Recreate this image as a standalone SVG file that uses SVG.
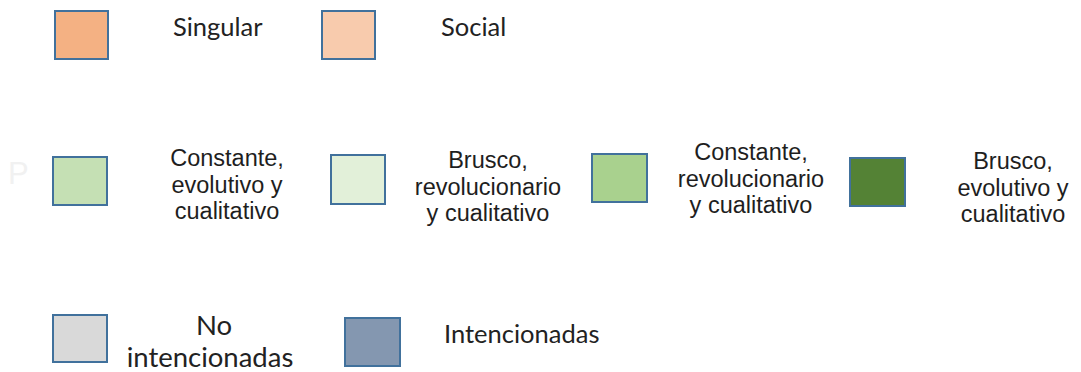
<svg xmlns="http://www.w3.org/2000/svg" width="1081" height="372" viewBox="0 0 1081 372">
<style>
.box{stroke:#41719C;stroke-width:2}
.c{font-family:Lato,"Liberation Sans",sans-serif;font-size:25.5px;fill:#222}
.a{font-family:"Liberation Sans",Arial,sans-serif;font-size:23.5px;fill:#1e1e1e;text-anchor:middle}
.n{font-family:Lato,"Liberation Sans",sans-serif;font-size:27.5px;fill:#222;text-anchor:middle}
</style>
<rect width="1081" height="372" fill="#ffffff"/>
<text x="8" y="184" font-family="Liberation Sans,sans-serif" font-size="31" fill="#f1f1f1">P</text>
<g id="singular">
<rect class="box" x="55" y="11" width="53" height="48" fill="#F4B183"/>
<text class="c" x="173" y="36">Singular</text>
</g>
<g id="social">
<rect class="box" x="322" y="11" width="53" height="48" fill="#F8CBAD"/>
<text class="c" x="441" y="36">Social</text>
</g>
<g id="constante-evolutivo">
<rect class="box" x="53" y="157" width="54" height="48" fill="#C5E0B4"/>
<text class="a" x="227" y="166">Constante,<tspan x="227" y="192.5">evolutivo y</tspan><tspan x="227" y="219">cualitativo</tspan></text>
</g>
<g id="brusco-revolucionario">
<rect class="box" x="331" y="155" width="54" height="49" fill="#E2F0D9"/>
<text class="a" x="488" y="168">Brusco,<tspan x="488" y="194.5">revolucionario</tspan><tspan x="488" y="221">y cualitativo</tspan></text>
</g>
<g id="constante-revolucionario">
<rect class="box" x="592" y="154" width="55" height="48" fill="#A9D18E"/>
<text class="a" x="751" y="160">Constante,<tspan x="751" y="186.5">revolucionario</tspan><tspan x="751" y="213">y cualitativo</tspan></text>
</g>
<g id="brusco-evolutivo">
<rect class="box" x="850" y="158" width="55" height="48" fill="#548235"/>
<text class="a" x="1013" y="169">Brusco,<tspan x="1013" y="195.5">evolutivo y</tspan><tspan x="1013" y="222">cualitativo</tspan></text>
</g>
<g id="no-intencionadas">
<rect class="box" x="53" y="315" width="54" height="47" fill="#D9D9D9"/>
<text class="n" x="214" y="335">No</text>
<text class="n" x="210" y="367">intencionadas</text>
</g>
<g id="intencionadas">
<rect class="box" x="345" y="318" width="55" height="48" fill="#8497B0"/>
<text class="c" x="444" y="343">Intencionadas</text>
</g>
<g id="connectors"></g>
</svg>
